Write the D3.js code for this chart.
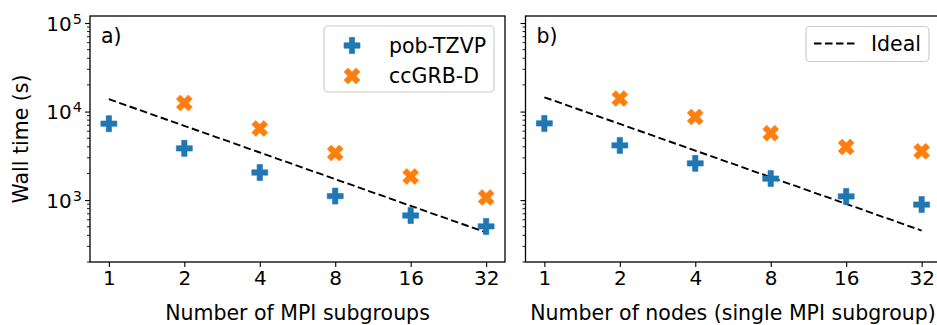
<!DOCTYPE html>
<html>
<head>
<meta charset="utf-8">
<script src="https://cdn.jsdelivr.net/npm/d3@7"></script>
<style>
  html, body { margin: 0; padding: 0; background: #fff; }
  svg { display: block; font-family: "DejaVu Sans", sans-serif; }
</style>
</head>
<body>
<svg id="chart" width="937" height="325"></svg>
<script>
// ---- data ----
const nodes = [1, 2, 4, 8, 16, 32];
const panelLabels = ["a)", "b)"];
const xLabels = ["Number of MPI subgroups", "Number of nodes (single MPI subgroup)"];
const yLabel = "Wall time (s)";
const seriesNames = ["pob-TZVP", "ccGRB-D"];
const idealName = "Ideal";

// panel a: MPI subgroups
const aPob = [7300, 3840, 2050, 1110, 670, 505];
const aCc = [null, 12500, 6450, 3400, 1850, 1070];
const aIdeal = [13800, 6900, 3450, 1725, 862, 431];

// panel b: nodes
const bPob = [7350, 4150, 2600, 1750, 1100, 890];
const bCc = [null, 14000, 8700, 5700, 3980, 3560];
const bIdeal = [14500, 7250, 3625, 1812, 906, 453];

const yTicks = [1e3, 1e4, 1e5];
const yDomain = [200, 1.2e5];
const xDomain = [Math.pow(2, -0.25), Math.pow(2, 5.25)];

const colors = ["#1f77b4", "#ff7f0e"];
const FS = 20.5;
const TFS = 20;

const svg = d3.select("#chart");

const panels = [
  { left: 90, right: 505, pob: aPob, cc: aCc, ideal: aIdeal, showY: true },
  { left: 525.5, right: 940.5, pob: bPob, cc: bCc, ideal: bIdeal, showY: false }
];
const plotTop = 16, plotBottom = 262;

const y = d3.scaleLog().domain(yDomain).range([plotBottom, plotTop]);

// marker paths (matplotlib 'P' and 'X' filled)
function plusPath(s) {
  const u = s / 6;
  const pts = [[-1,-3],[1,-3],[1,-1],[3,-1],[3,1],[1,1],[1,3],[-1,3],[-1,1],[-3,1],[-3,-1],[-1,-1]];
  return "M" + pts.map(p => [p[0]*u, p[1]*u].join(",")).join("L") + "Z";
}
function xPath(s) {
  const u = s / 4;
  const pts = [[-1,-2],[0,-1],[1,-2],[2,-1],[1,0],[2,1],[1,2],[0,1],[-1,2],[-2,1],[-1,0],[-2,-1]];
  return "M" + pts.map(p => [p[0]*u, p[1]*u].join(",")).join("L") + "Z";
}
const markerSize = 16;

function superLabel(sel, v) {
  const e = Math.round(Math.log10(v));
  sel.text(null);
  sel.append("tspan").text("10");
  sel.append("tspan").attr("dx", "0.08em").attr("dy", "-0.5em").attr("font-size", "0.72em").text(e);
}

panels.forEach((p, i) => {
  const x = d3.scaleLog().base(2).domain(xDomain).range([p.left, p.right]);
  const g = svg.append("g");

  const clipId = "clip" + i;
  svg.append("clipPath").attr("id", clipId).append("rect")
    .attr("x", p.left).attr("y", plotTop).attr("width", p.right - p.left).attr("height", plotBottom - plotTop);

  // x axis
  const xAxis = d3.axisBottom(x).tickValues(nodes).tickFormat(d3.format("d")).tickSizeOuter(0).tickSize(5).tickPadding(4);
  const xg = g.append("g").attr("transform", `translate(0,${plotBottom})`).call(xAxis);
  xg.select(".domain").remove();
  xg.selectAll("line").attr("stroke", "#000").attr("stroke-width", 1.1);
  xg.selectAll("text").attr("font-size", TFS).attr("fill", "#000").attr("font-family", "DejaVu Sans");

  // y axis major
  const yAxis = d3.axisLeft(y).tickValues(yTicks).tickSize(5).tickPadding(3).tickSizeOuter(0);
  const yg = g.append("g").attr("transform", `translate(${p.left},0)`).call(yAxis);
  yg.select(".domain").remove();
  yg.selectAll("line").attr("stroke", "#000").attr("stroke-width", 1.1);
  if (p.showY) {
    yg.selectAll("text").attr("font-size", TFS).attr("fill", "#000")
      .attr("font-family", "DejaVu Sans").attr("dy", "0.36em")
      .each(function(d) { superLabel(d3.select(this), d); });
  } else {
    yg.selectAll("text").remove();
  }
  // y minor ticks
  const minor = [];
  for (let dec = 2; dec <= 5; dec++) {
    for (let m = 2; m <= 9; m++) {
      const v = m * Math.pow(10, dec);
      if (v >= yDomain[0] && v <= yDomain[1]) minor.push(v);
    }
  }
  g.append("g").selectAll("line").data(minor).join("line")
    .attr("x1", p.left).attr("x2", p.left - 3)
    .attr("y1", d => y(d)).attr("y2", d => y(d))
    .attr("stroke", "#000").attr("stroke-width", 0.9);

  // ideal line
  const line = d3.line().x((d, k) => x(nodes[k])).y(d => y(d));
  g.append("path").datum(p.ideal).attr("d", line)
    .attr("fill", "none").attr("stroke", "#000").attr("stroke-width", 1.9)
    .attr("stroke-dasharray", "7.5,3.5").attr("clip-path", `url(#${clipId})`);

  // markers
  const mg = g.append("g").attr("clip-path", `url(#${clipId})`);
  mg.selectAll("path.pob").data(p.pob.map((v, k) => [nodes[k], v]).filter(d => d[1] != null))
    .join("path").attr("class", "pob")
    .attr("d", plusPath(markerSize))
    .attr("transform", d => `translate(${x(d[0])},${y(d[1])})`)
    .attr("fill", colors[0]).attr("stroke", colors[0]).attr("stroke-width", 1).attr("stroke-opacity", 0.6);
  mg.selectAll("path.cc").data(p.cc.map((v, k) => [nodes[k], v]).filter(d => d[1] != null))
    .join("path").attr("class", "cc")
    .attr("d", xPath(markerSize))
    .attr("transform", d => `translate(${x(d[0])},${y(d[1])})`)
    .attr("fill", colors[1]).attr("stroke", colors[1]).attr("stroke-width", 1).attr("stroke-opacity", 0.6);

  // frame
  g.append("rect").attr("x", p.left).attr("y", plotTop)
    .attr("width", p.right - p.left).attr("height", plotBottom - plotTop)
    .attr("fill", "none").attr("stroke", "#000").attr("stroke-width", 1.3);

  // panel label
  g.append("text").attr("x", p.left + 11).attr("y", plotTop + 27)
    .attr("font-size", FS).attr("fill", "#000").text(panelLabels[i]);

  // x label
  g.append("text").attr("x", (p.left + p.right) / 2).attr("y", 320)
    .attr("text-anchor", "middle").attr("font-size", FS).attr("fill", "#000").text(xLabels[i]);
});

// y label
svg.append("text").attr("transform", `translate(28,${(plotTop + plotBottom) / 2}) rotate(-90)`)
  .attr("text-anchor", "middle").attr("font-size", FS).attr("fill", "#000").text(yLabel);

// legend a
const la = svg.append("g");
la.append("rect").attr("x", 324).attr("y", 26).attr("width", 170).attr("height", 66).attr("rx", 4)
  .attr("fill", "#fff").attr("fill-opacity", 0.8).attr("stroke", "#ccc").attr("stroke-width", 1.2);
[0, 1].forEach(k => {
  const cy = 45.5 + k * 30.5;
  la.append("path").attr("d", k === 0 ? plusPath(markerSize) : xPath(markerSize))
    .attr("transform", `translate(352,${cy})`).attr("fill", colors[k])
    .attr("stroke", colors[k]).attr("stroke-width", 1).attr("stroke-opacity", 0.6);
  la.append("text").attr("x", 389).attr("y", cy).attr("dy", "0.36em")
    .attr("font-size", FS).attr("fill", "#000").text(seriesNames[k]);
});

// legend b
const lb = svg.append("g");
lb.append("rect").attr("x", 806).attr("y", 26.5).attr("width", 123).attr("height", 35).attr("rx", 4)
  .attr("fill", "#fff").attr("fill-opacity", 0.8).attr("stroke", "#ccc").attr("stroke-width", 1.2);
lb.append("line").attr("x1", 814).attr("x2", 856).attr("y1", 43.5).attr("y2", 43.5)
  .attr("stroke", "#000").attr("stroke-width", 1.9).attr("stroke-dasharray", "7.5,3.5");
lb.append("text").attr("x", 871).attr("y", 43.5).attr("dy", "0.36em")
  .attr("font-size", FS).attr("fill", "#000").text(idealName);
</script>
</body>
</html>
